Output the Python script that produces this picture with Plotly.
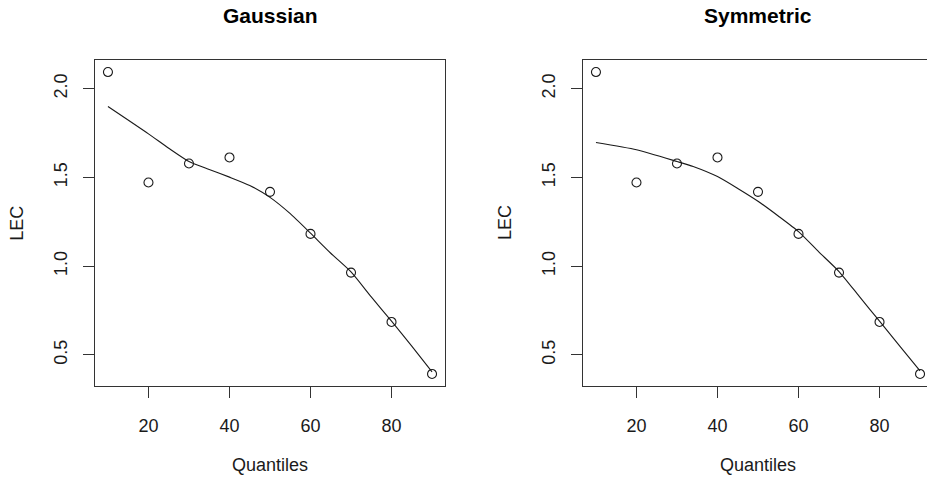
import plotly.graph_objects as go

# ---- data ----
quantiles = [10, 20, 30, 40, 50, 60, 70, 80, 90]
lec = [2.094, 1.472, 1.579, 1.613, 1.419, 1.182, 0.964, 0.686, 0.393]

gauss_x = [10, 20, 25, 30, 35, 40, 45, 50, 55, 60, 65, 70, 75, 80, 85, 90]
gauss_y = [1.900, 1.746, 1.665, 1.590, 1.545, 1.502, 1.455, 1.388, 1.296, 1.186,
           1.073, 0.968, 0.827, 0.690, 0.550, 0.405]

sym_x = [10, 20, 30, 34, 40, 45, 50, 55, 60, 65, 70, 75, 80, 85, 90]
sym_y = [1.697, 1.656, 1.590, 1.562, 1.505, 1.438, 1.366, 1.283, 1.195, 1.081,
         0.970, 0.830, 0.690, 0.550, 0.410]

titles = ["Gaussian", "Symmetric"]
xlab = "Quantiles"
ylab = "LEC"
xticks = [20, 40, 60, 80]
yticks = [0.5, 1.0, 1.5, 2.0]
yticklabels = ["0.5", "1.0", "1.5", "2.0"]

FONT = "Liberation Sans, Arial, Helvetica, sans-serif"
INK = "#1a1a1a"

# R-style 4% axis extension
def r_range(v):
    lo, hi = min(v), max(v)
    d = (hi - lo) * 0.04
    return [lo - d, hi + d]

xr = r_range(quantiles)
yr = r_range(lec)

W, H = 927, 477
ml, mr, mt, mb = 95, 0, 60, 91
pw = W - ml - mr
ph = H - mt - mb
box_w = 350
left_dom = [0, box_w / pw]
right_start = (583 - ml) / pw
visible_frac = (W - 583) / box_w
xr2 = [xr[0], xr[0] + (xr[1] - xr[0]) * visible_frac]

fig = go.Figure()

for i, (lx, ly) in enumerate([(gauss_x, gauss_y), (sym_x, sym_y)]):
    xa = "x" if i == 0 else "x2"
    ya = "y" if i == 0 else "y2"
    fig.add_trace(go.Scatter(x=lx, y=ly, mode="lines", xaxis=xa, yaxis=ya,
                             line=dict(color=INK, width=1.1, shape="spline", smoothing=0.6),
                             showlegend=False))
    fig.add_trace(go.Scatter(x=quantiles, y=lec, mode="markers", xaxis=xa, yaxis=ya,
                             marker=dict(symbol="circle-open", size=9,
                                         line=dict(width=1.1, color=INK), color=INK),
                             showlegend=False, cliponaxis=False))

axis_common = dict(showgrid=False, zeroline=False, showline=True, linecolor="#333",
                   linewidth=1, ticks="outside", ticklen=11, tickwidth=1, tickcolor="#333",
                   tickfont=dict(family=FONT, size=18, color=INK),
                   automargin=False)

fig.update_layout(
    width=W, height=H,
    margin=dict(l=ml, r=mr, t=mt, b=mb, autoexpand=False),
    paper_bgcolor="white", plot_bgcolor="white",
    xaxis=dict(domain=left_dom, range=xr, tickvals=xticks, anchor="y", mirror=True,
               ticklabelstandoff=12, **axis_common),
    yaxis=dict(domain=[0, 1], range=yr, tickvals=yticks, ticktext=yticklabels, tickangle=-90,
               anchor="x", mirror=True, ticklabelstandoff=9, **axis_common),
    xaxis2=dict(domain=[right_start, 1], range=xr2, tickvals=xticks, anchor="y2", mirror=True,
                ticklabelstandoff=12, **axis_common),
    yaxis2=dict(domain=[0, 1], range=yr, tickvals=yticks, ticktext=yticklabels, tickangle=-90,
                anchor="x2", mirror=False, ticklabelstandoff=9, **axis_common),
)

ann = []
for i, cx_px in enumerate([95 + box_w / 2, 583 + box_w / 2]):
    cx = (cx_px - ml) / pw
    ann.append(dict(text="<b>" + titles[i] + "</b>", x=cx, y=(H - mb - 15.7) / ph,
                    xref="paper", yref="paper", showarrow=False, xanchor="center", yanchor="middle",
                    font=dict(family=FONT, size=21, color="black")))
    ann.append(dict(text=xlab, x=cx, y=(H - mb - 465) / ph, xref="paper", yref="paper",
                    showarrow=False, xanchor="center", yanchor="middle",
                    font=dict(family=FONT, size=18, color=INK)))
for lx_px in [16.7, 505]:
    ann.append(dict(text=ylab, x=(lx_px - ml) / pw, y=0.5, xref="paper", yref="paper",
                    showarrow=False, xanchor="center", yanchor="middle", textangle=-90,
                    font=dict(family=FONT, size=18, color=INK)))
fig.update_layout(annotations=ann)

fig.write_html("out.html", config={"displayModeBar": False},
               post_script="document.body.style.margin='0';document.body.style.overflow='hidden';")
